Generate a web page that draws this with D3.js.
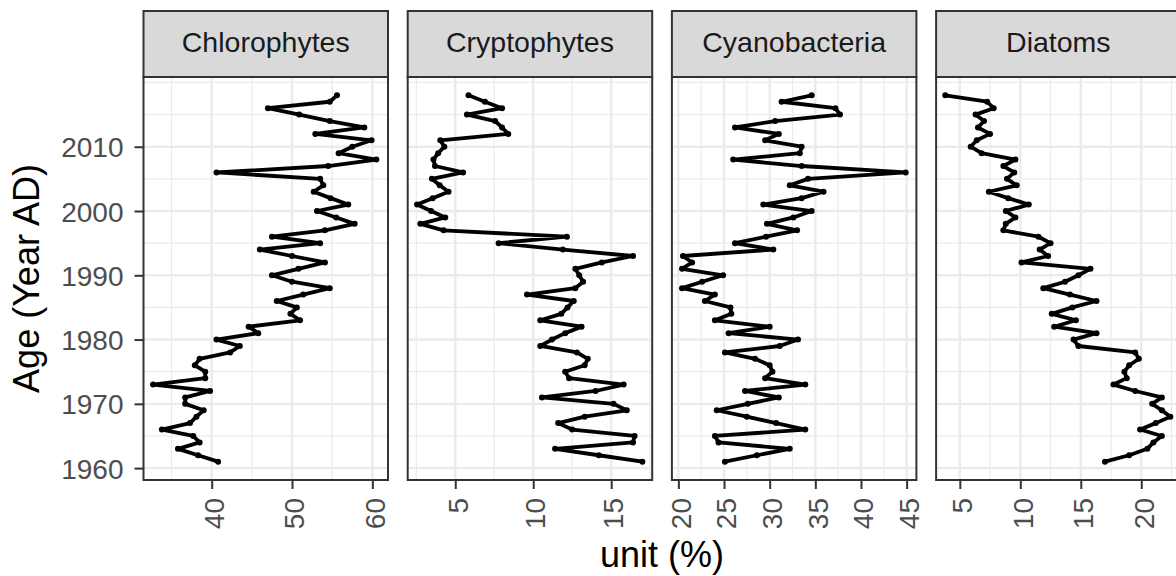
<!DOCTYPE html>
<html>
<head>
<meta charset="utf-8">
<script src="https://cdn.jsdelivr.net/npm/d3@7"></script>
<style>
  body { margin: 0; background: #ffffff; }
  svg { display: block; }
</style>
</head>
<body>
<svg id="chart" width="1176" height="576"></svg>
<script>
// ---------------- DATA ----------------
const years = [1961,1962,1963,1964,1965,1966,1967,1968,1969,1970,
               1971,1972,1973,1974,1975,1976,1977,1978,1979,1980,
               1981,1982,1983,1984,1985,1986,1987,1988,1989,1990,
               1991,1992,1993,1994,1995,1996,1997,1998,1999,2000,
               2001,2002,2003,2004,2005,2006,2007,2008,2009,2010,
               2011,2012,2013,2014,2015,2016,2017,2018];

const chlorophytes = [40.8,38.3,35.8,38.5,37.7,33.8,37.3,38.1,39.0,36.7,
                      36.7,39.8,32.7,39.2,39.2,37.9,38.5,42.3,43.5,40.6,
                      45.8,44.6,51.0,49.8,50.6,48.1,51.4,54.7,50.0,47.5,
                      50.8,54.1,50.0,46.0,53.5,47.5,54.1,57.8,55.5,53.1,
                      57.0,54.8,52.7,53.9,53.5,40.6,54.5,60.5,55.8,57.5,
                      59.9,52.9,59.0,54.7,50.9,47.0,54.7,55.6];

const cryptophytes = [17.0,14.2,11.4,16.4,16.5,12.5,11.6,13.3,16.0,15.15,
                      10.56,14.0,15.8,12.3,12.05,13.3,13.5,12.8,10.45,11.2,
                      12.05,13.1,10.45,11.8,12.2,12.6,9.6,12.7,13.2,12.95,
                      12.7,14.4,16.4,11.9,7.78,12.16,4.25,2.76,4.36,3.45,
                      2.55,3.55,4.57,4.0,3.5,5.5,3.7,3.6,3.9,4.3,
                      4.04,8.4,8.0,7.56,5.75,8.0,6.9,5.85];

const cyanobacteria = [25.1,28.6,32.2,24.4,24.0,33.9,30.7,27.5,24.2,27.6,
                       31.0,27.3,33.9,29.5,30.3,30.0,28.4,25.1,31.1,33.1,
                       25.5,30.0,24.0,25.8,25.7,22.9,24.0,20.4,22.6,24.9,
                       20.4,21.5,20.5,30.4,26.2,29.6,33.0,29.7,32.6,34.6,
                       29.3,33.5,35.9,32.2,34.2,44.9,33.5,26.0,33.3,33.5,
                       29.5,31.0,26.2,30.6,37.7,37.2,31.3,34.6];

const diatoms = [17.0,19.0,20.5,21.0,21.7,19.9,21.2,22.4,21.7,20.9,
                 21.7,19.5,17.7,18.8,18.6,19.0,19.8,19.5,14.8,14.4,
                 16.3,12.8,14.6,12.6,14.3,16.3,14.1,11.9,13.7,14.8,
                 15.8,10.1,12.3,11.6,12.5,11.5,8.6,8.8,9.6,8.8,
                 10.7,9.0,7.4,9.7,8.9,9.5,8.6,9.6,6.8,5.9,
                 6.4,7.5,6.5,7.0,6.3,7.8,7.26,3.8];

const panelNames = ["Chlorophytes", "Cryptophytes", "Cyanobacteria", "Diatoms"];
const panelValues = [chlorophytes, cryptophytes, cyanobacteria, diatoms];

const yTicks = [1960, 1970, 1980, 1990, 2000, 2010];
const yMinor = [1965, 1975, 1985, 1995, 2005, 2015, 2020];
const yDomain = [1958.15, 2020.85];

const xTicks = [[40, 50, 60], [5, 10, 15], [20, 25, 30, 35, 40, 45], [5, 10, 15, 20]];
const xMinor = [[35, 45, 55], [2.5, 7.5, 12.5, 17.5], [22.5, 27.5, 32.5, 37.5, 42.5], [7.5, 12.5, 17.5, 22.5]];
const xDomains = [[31.51, 61.95], [1.95, 17.63], [19.29, 46.07], [3.04, 23.25]];

const xTitle = "unit (%)";
const yTitle = "Age (Year AD)";

// ---------------- LAYOUT ----------------
const svg = d3.select("#chart");
const W = 1176, H = 576;
const panelTop = 77, panelBottom = 480;
const stripTop = 11;
const panelW = 244.5;
const panelLefts = [143.5, 407.7, 671.9, 936.1];
const FONT = "'Liberation Sans', Arial, Helvetica, sans-serif";

svg.append("rect").attr("width", W).attr("height", H).attr("fill", "#ffffff");

const y = d3.scaleLinear().domain(yDomain).range([panelBottom, panelTop]);

panelNames.forEach((name, i) => {
  const left = panelLefts[i];
  const x = d3.scaleLinear().domain(xDomains[i]).range([left, left + panelW]);
  const g = svg.append("g");

  const inX = v => v >= xDomains[i][0] && v <= xDomains[i][1];
  const inY = v => v >= yDomain[0] && v <= yDomain[1];

  // minor grid
  g.selectAll(".ymin").data(yMinor.filter(inY)).enter().append("line")
    .attr("x1", left).attr("x2", left + panelW)
    .attr("y1", d => y(d)).attr("y2", d => y(d))
    .attr("stroke", "#EBEBEB").attr("stroke-width", 1.2);
  g.selectAll(".xmin").data(xMinor[i].filter(inX)).enter().append("line")
    .attr("y1", panelTop).attr("y2", panelBottom)
    .attr("x1", d => x(d)).attr("x2", d => x(d))
    .attr("stroke", "#EBEBEB").attr("stroke-width", 1.2);
  // major grid
  g.selectAll(".ymaj").data(yTicks).enter().append("line")
    .attr("x1", left).attr("x2", left + panelW)
    .attr("y1", d => y(d)).attr("y2", d => y(d))
    .attr("stroke", "#EBEBEB").attr("stroke-width", 2.4);
  g.selectAll(".xmaj").data(xTicks[i]).enter().append("line")
    .attr("y1", panelTop).attr("y2", panelBottom)
    .attr("x1", d => x(d)).attr("x2", d => x(d))
    .attr("stroke", "#EBEBEB").attr("stroke-width", 2.4);

  // data
  const pts = years.map((yr, k) => ({ year: yr, v: panelValues[i][k] }));
  const line = d3.line().x(d => x(d.v)).y(d => y(d.year));
  g.append("path").datum(pts)
    .attr("d", line)
    .attr("fill", "none")
    .attr("stroke", "#000000")
    .attr("stroke-width", 3.8)
    .attr("stroke-linejoin", "round")
    .attr("stroke-linecap", "round");
  g.selectAll(".pt").data(pts).enter().append("circle")
    .attr("cx", d => x(d.v)).attr("cy", d => y(d.year))
    .attr("r", 3).attr("fill", "#000000");

  // panel border
  g.append("rect")
    .attr("x", left).attr("y", panelTop)
    .attr("width", panelW).attr("height", panelBottom - panelTop)
    .attr("fill", "none").attr("stroke", "#333333").attr("stroke-width", 2);

  // strip
  g.append("rect")
    .attr("x", left).attr("y", stripTop)
    .attr("width", panelW).attr("height", panelTop - stripTop)
    .attr("fill", "#D9D9D9").attr("stroke", "#333333").attr("stroke-width", 2);
  g.append("text")
    .attr("x", left + panelW / 2).attr("y", 52)
    .attr("text-anchor", "middle")
    .attr("font-family", FONT).attr("font-size", 28.5)
    .attr("fill", "#1A1A1A")
    .text(name);

  // bottom axis
  const ax = svg.append("g")
    .attr("transform", `translate(0,${panelBottom})`)
    .call(d3.axisBottom(x).tickValues(xTicks[i]).tickSize(9).tickFormat(d3.format("d")));
  ax.select(".domain").remove();
  ax.selectAll(".tick line").attr("stroke", "#333333").attr("stroke-width", 2);
  ax.selectAll(".tick text")
    .attr("transform", "rotate(-90)")
    .attr("x", -18).attr("y", 0).attr("dy", "0.42em")
    .attr("text-anchor", "end")
    .attr("font-family", FONT).attr("font-size", 28)
    .attr("fill", "#4D4D4D");
});

// left axis
const ay = svg.append("g")
  .attr("transform", `translate(${panelLefts[0]},0)`)
  .call(d3.axisLeft(y).tickValues(yTicks).tickSize(9).tickFormat(d3.format("d")));
ay.select(".domain").remove();
ay.selectAll(".tick line").attr("stroke", "#333333").attr("stroke-width", 2);
ay.selectAll(".tick text")
  .attr("x", -20).attr("dy", "0.36em")
  .attr("font-family", FONT).attr("font-size", 28)
  .attr("fill", "#4D4D4D");

// axis titles
svg.append("text")
  .attr("x", 662).attr("y", 567)
  .attr("text-anchor", "middle")
  .attr("font-family", FONT).attr("font-size", 36)
  .attr("fill", "#000000")
  .text(xTitle);

svg.append("text")
  .attr("transform", `translate(39,${(panelTop + panelBottom) / 2}) rotate(-90)`)
  .attr("text-anchor", "middle")
  .attr("font-family", FONT).attr("font-size", 36)
  .attr("fill", "#000000")
  .text(yTitle);
</script>
</body>
</html>
